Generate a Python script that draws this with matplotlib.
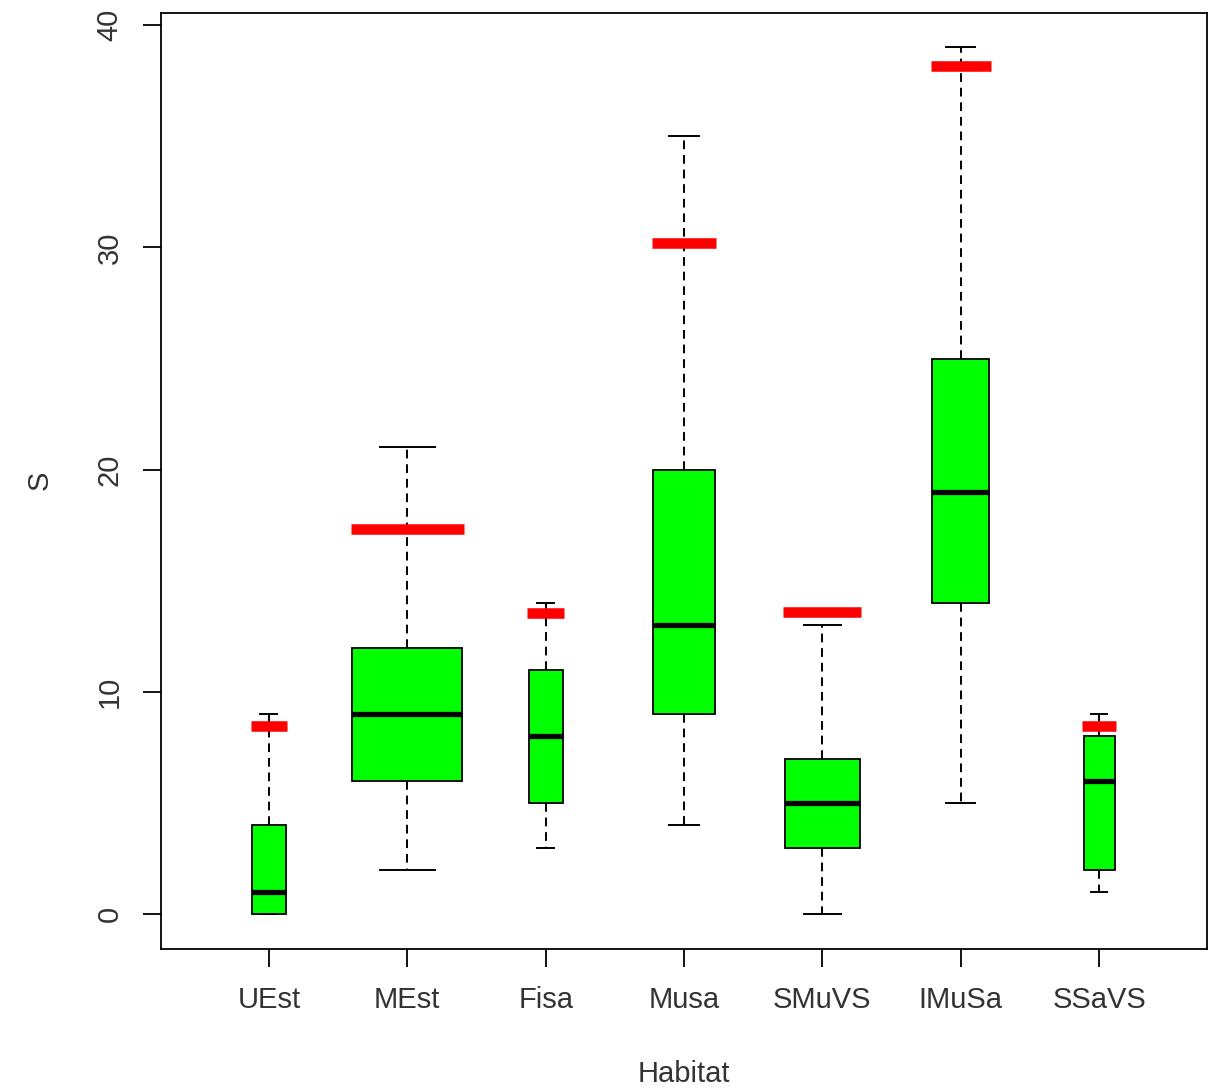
import numpy as np
import matplotlib.pyplot as plt

plt.rcParams['font.family'] = ['Liberation Sans', 'DejaVu Sans']

habitats = ["UEst", "MEst", "Fisa", "Musa", "SMuVS", "IMuSa", "SSaVS"]
whisker_low = [0, 2, 3, 4, 0, 5, 1]
q1 = [0, 6, 5, 9, 3, 14, 2]
medians = [1, 9, 8, 13, 5, 19, 6]
q3 = [4, 12, 11, 20, 7, 25, 8]
whisker_high = [9, 21, 14, 35, 13, 39, 9]
# red reference marks
ref_values = [8.45, 17.33, 13.55, 30.22, 13.58, 38.15, 8.45]
# relative box widths (varwidth)
box_widths = [0.246, 0.795, 0.246, 0.448, 0.542, 0.412, 0.224]


def main():
    fig = plt.figure(figsize=(12.16, 10.91), dpi=100)
    ax = fig.add_axes([0.1324, 0.1302, 0.8602, 0.8582])

    positions = np.arange(1, len(habitats) + 1)
    stats = []
    for i, name in enumerate(habitats):
        stats.append({
            "label": name,
            "whislo": whisker_low[i],
            "q1": q1[i],
            "med": medians[i],
            "q3": q3[i],
            "whishi": whisker_high[i],
            "fliers": [],
        })

    ax.bxp(
        stats,
        positions=positions,
        widths=box_widths,
        capwidths=[w / 2 for w in box_widths],
        patch_artist=True,
        showfliers=False,
        boxprops=dict(facecolor="#00ff00", edgecolor="black", linewidth=1.3),
        medianprops=dict(color="black", linewidth=3.8, solid_capstyle="butt"),
        whiskerprops=dict(color="black", linewidth=1.4, linestyle=(0, (4.5, 3))),
        capprops=dict(color="black", linewidth=1.4),
    )

    for i in range(len(habitats)):
        ax.hlines(ref_values[i], positions[i] - box_widths[i] / 2 - 0.01,
                  positions[i] + box_widths[i] / 2 + 0.01,
                  color="#ff0000", linewidth=7.6, zorder=5, capstyle="butt")

    ax.set_xlim(0.22, 7.78)
    ax.set_ylim(-1.56, 40.56)
    ax.set_xticks(positions)
    ax.set_xticklabels(habitats)
    ax.set_yticks([0, 10, 20, 30, 40])
    ax.tick_params(axis="both", length=13, width=1.3, labelsize=21,
                   labelcolor="#333333")
    ax.tick_params(axis="x", pad=14)
    ax.tick_params(axis="y", pad=14, labelrotation=90)
    for lab in ax.get_yticklabels():
        lab.set_verticalalignment("center")
    for sp in ax.spines.values():
        sp.set_linewidth(1.3)

    ax.set_xlabel("Habitat", fontsize=21, color="#333333", labelpad=33)
    ax.set_ylabel("S", fontsize=21, color="#333333", labelpad=30)

    fig.savefig("out.png", dpi=100)


if __name__ == '__main__':
    main()
